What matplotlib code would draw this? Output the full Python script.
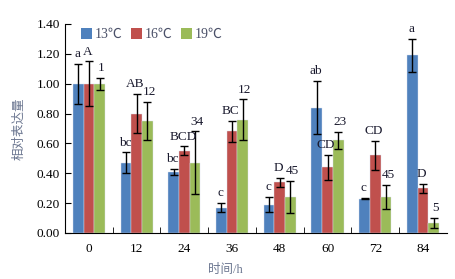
import numpy as np
from matplotlib import pyplot as plt
from matplotlib.patches import Patch

hours = ["0", "12", "24", "36", "48", "60", "72", "84"]
series = ["13℃", "16℃", "19℃"]

v13 = [1.00, 0.47, 0.41, 0.17, 0.19, 0.84, 0.23, 1.19]
e13 = [0.135, 0.07, 0.02, 0.03, 0.05, 0.18, 0.005, 0.11]
v16 = [1.00, 0.80, 0.55, 0.68, 0.34, 0.44, 0.52, 0.30]
e16 = [0.15, 0.13, 0.03, 0.07, 0.03, 0.085, 0.095, 0.03]
v19 = [1.00, 0.75, 0.47, 0.76, 0.24, 0.62, 0.24, 0.065]
e19 = [0.04, 0.13, 0.21, 0.135, 0.107, 0.056, 0.08, 0.035]

lab13 = ["a", "bc", "bc", "c", "c", "ab", "c", "a"]
lab16 = ["A", "AB", "BCD", "BC", "D", "CD", "CD", "D"]
lab19 = ["1", "12", "34", "12", "45", "23", "45", "5"]

colors = ["#4F81BD", "#C0504D", "#9BBB59"]
serif = ["Liberation Serif", "Noto Sans CJK SC", "DejaVu Sans"]
plt.rcParams['font.family'] = serif

fig = plt.figure(figsize=(4.56, 2.79), dpi=100)
ax = fig.add_axes([0.1425, 0.165, 0.8375, 0.749])

x = np.arange(len(hours))
w = 0.224
vals = [v13, v16, v19]
errs = [e13, e16, e19]
labs = [lab13, lab16, lab19]
shift = [-0.02, -0.03, 0.04]
for k in range(3):
    xs = x + (k - 1) * w
    ax.bar(xs, vals[k], w, color=colors[k], edgecolor="#d9e1ee", linewidth=0.3)
    ax.errorbar(xs, vals[k], yerr=errs[k], fmt="none", ecolor="black",
                elinewidth=1.0, capsize=3, capthick=1.0)
    for i in range(len(hours)):
        ax.text(xs[i] + shift[k], vals[k][i] + errs[k][i] + 0.025, labs[k][i],
                ha="center", va="bottom", fontsize=9.5, color="#1a1a2e")

ax.set_xlim(-0.5, len(hours) - 0.5)
ax.set_ylim(0, 1.4)
ax.set_yticks(np.arange(0, 1.41, 0.2))
ax.set_yticklabels(["%.2f" % t for t in np.arange(0, 1.41, 0.2)])
ax.set_xticks(x)
ax.set_xticklabels(hours)
ax.set_xticks(np.arange(0.5, len(hours) - 0.5, 1.0), minor=True)
ax.tick_params(axis="x", which="major", length=0, labelsize=9.5, pad=7)
ax.tick_params(axis="x", which="minor", length=4, direction="in")
ax.tick_params(axis="y", length=4, direction="in", labelsize=9.5)
ax.spines["top"].set_visible(False)
ax.spines["right"].set_visible(False)

ax.set_ylabel("相对表达量", color="#6b7690", fontsize=9, labelpad=8)
ax.set_xlabel("时间/h", color="#6b7690", fontsize=9)
ax.xaxis.set_label_coords(0.42, -0.15)

handles = [Patch(facecolor=c) for c in colors]
ax.legend(handles, series, loc="upper left", bbox_to_anchor=(0.01, 1.04),
          ncol=3, frameon=False, fontsize=10, handlelength=0.8, handleheight=0.8,
          handletextpad=0.2, columnspacing=0.6, labelcolor="#4a5068")

plt.savefig("out.png", dpi=100)
